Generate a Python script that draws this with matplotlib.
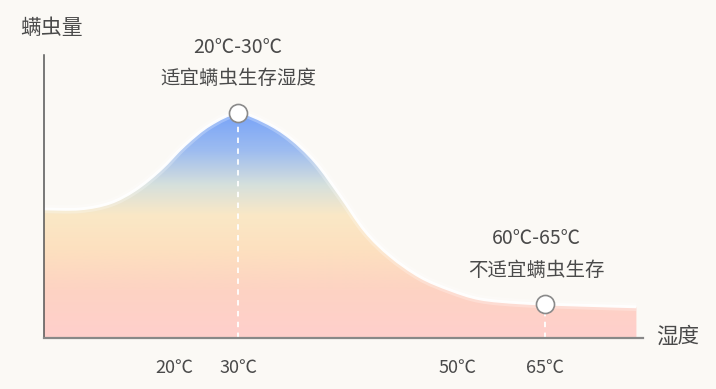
import numpy as np
import matplotlib
matplotlib.use("Agg")
import matplotlib.pyplot as plt
from matplotlib.path import Path
from matplotlib.patches import PathPatch
from matplotlib.colors import LinearSegmentedColormap

plt.rcParams['font.family'] = ['Noto Sans CJK SC', 'DejaVu Sans']

# ---- data (axis units: x 0..100 along humidity axis, y 0..100 mite amount) ----
curve_x = [0, 6.0, 11.0, 15.2, 19.4, 23.5, 27.7, 32.4, 36.9, 41.1, 45.3, 49.4,
           53.6, 57.8, 62.8, 67.8, 72.8, 79.5, 87.8, 98.9]
curve_y = [45.6, 45.6, 47.7, 52.3, 59.4, 68.2, 75.3, 79.5, 76.3, 70.7, 62.2, 50.5,
           37.8, 29.0, 21.6, 17.0, 13.8, 12.4, 11.7, 11.0]
tick_pos = [21.7, 32.4, 69.1, 83.6]
tick_labels = ['20℃', '30℃', '50℃', '65℃']
marker_x = [32.4, 83.6]
marker_y = [79.5, 12.0]
ann_range = ['20℃-30℃', '60℃-65℃']
ann_desc = ['适宜螨虫生存湿度', '不适宜螨虫生存']
y_label = '螨虫量'
x_label = '湿度'

# gradient stops (y in axis units, colour)
grad_y = [0, 17.0, 31.1, 43.5, 54.1, 66.4, 79.5]
grad_c = ['#ffcfcc', '#fdd3c3', '#fde0bf', '#fae8c6', '#d6e0dc', '#9dbcf0', '#78a3f8']

BG = '#fbf9f5'
TXT = '#4a4a4a'

fig = plt.figure(figsize=(7.16, 3.89), dpi=100, facecolor=BG)
ax = fig.add_axes([44/716, 1-338/389, 599/716, 283/389], facecolor=BG)

# smooth bezier path through the points (Catmull-Rom -> cubic Bezier)
pts = np.column_stack([curve_x, curve_y])
verts = [tuple(pts[0])]
codes = [Path.MOVETO]
n = len(pts)
for i in range(n - 1):
    p0 = pts[max(i - 1, 0)]
    p1 = pts[i]
    p2 = pts[i + 1]
    p3 = pts[min(i + 2, n - 1)]
    c1 = p1 + (p2 - p0) / 6.0
    c2 = p2 - (p3 - p1) / 6.0
    verts += [tuple(c1), tuple(c2), tuple(p2)]
    codes += [Path.CURVE4] * 3
line_path = Path(verts, codes)
fill_verts = verts + [(curve_x[-1], 0), (curve_x[0], 0), verts[0]]
fill_codes = codes + [Path.LINETO, Path.LINETO, Path.CLOSEPOLY]
fill_path = Path(fill_verts, fill_codes)

# gradient fill
top = max(grad_y)
cmap = LinearSegmentedColormap.from_list(
    'g', [(gy / top, c) for gy, c in zip(grad_y, grad_c)])
grad = np.linspace(0, 1, 400).reshape(-1, 1)
clip = PathPatch(fill_path, facecolor='none', edgecolor='none', transform=ax.transData)
ax.add_patch(clip)
im = ax.imshow(grad, cmap=cmap, origin='lower', aspect='auto',
               extent=[curve_x[0], curve_x[-1], 0, top], interpolation='bilinear', zorder=1)
im.set_clip_path(clip)

# white glow along top edge
for lw, a in [(6, 0.25), (2, 0.95)]:
    ax.add_patch(PathPatch(line_path, facecolor='none', edgecolor='white', lw=lw,
                           alpha=a, capstyle='butt', zorder=2))
ax.set_xlim(0, 100)
ax.set_ylim(0, 100)

# dashed guides and markers
for mx, my in zip(marker_x, marker_y):
    ax.plot([mx, mx], [0, my], color='white', lw=1.3, ls=(0, (3, 3)), zorder=3)
ax.plot(marker_x, marker_y, 'o', ms=13, mfc='white', mec='#8a8a8a', mew=1.2,
        zorder=5, clip_on=False)

# annotations
offsets = [0, -6]
for mx, my, r, d, dx in zip(marker_x, marker_y, ann_range, ann_desc, offsets):
    ax.annotate(r, (mx, my), xytext=(dx, 47.5), textcoords='offset points',
                ha='center', va='center', fontsize=14, fontweight='light',
                color=TXT, annotation_clip=False)
    ax.annotate(d, (mx, my), xytext=(dx, 24.5), textcoords='offset points',
                ha='center', va='center', fontsize=14, fontweight='light',
                color=TXT, annotation_clip=False)

# axes styling
for s in ['top', 'right']:
    ax.spines[s].set_visible(False)
ax.spines['left'].set_color('#555555')
ax.spines['left'].set_linewidth(1.1)
ax.spines['bottom'].set_color('#888888')
ax.spines['bottom'].set_linewidth(1.6)
ax.spines['bottom'].set_zorder(4)
ax.set_yticks([])
ax.set_xticks(tick_pos)
ax.set_xticklabels(tick_labels, fontsize=13, color=TXT, fontweight='light')
ax.tick_params(axis='x', length=0, pad=15)

fig.text(20/716, 1-27.5/389, y_label, fontsize=15, color=TXT, fontweight='light',
         ha='left', va='center')
fig.text(656/716, 1-337/389, x_label, fontsize=15.5, color=TXT, fontweight='light',
         ha='left', va='center')

fig.savefig('out.png', dpi=100, facecolor=BG)
